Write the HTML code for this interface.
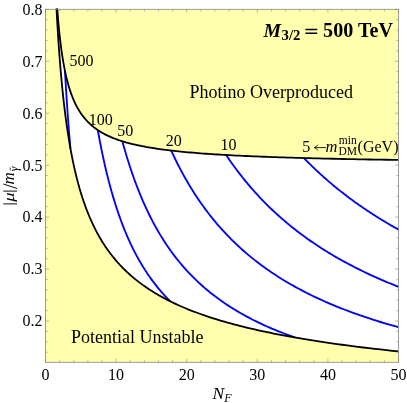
<!DOCTYPE html>
<html><head><meta charset="utf-8"><title>plot</title>
<style>
html,body{margin:0;padding:0;background:#fff;}
body{width:407px;height:403px;overflow:hidden;font-family:"Liberation Serif",serif;}
svg{display:block;will-change:transform;}
text{font-family:"Liberation Serif",serif;fill:#000;}
</style></head><body>
<svg width="407" height="403" viewBox="0 0 407 403">
<rect x="0" y="0" width="407" height="403" fill="#ffffff"/>
<rect x="45.5" y="9.3" width="353.0" height="353.0" fill="#ffffae"/>
<path d="M57.21,8.52 L57.41,11.18 L57.62,13.79 L57.83,16.36 L58.04,18.89 L58.25,21.37 L58.47,23.81 L58.70,26.21 L58.93,28.56 L59.16,30.88 L59.39,33.16 L59.63,35.40 L59.88,37.60 L60.13,39.77 L60.38,41.90 L60.64,43.99 L60.90,46.04 L61.16,48.06 L61.43,50.05 L61.71,52.01 L61.99,53.93 L62.27,55.81 L62.56,57.67 L62.86,59.49 L63.16,61.29 L63.46,63.05 L63.77,64.78 L64.09,66.48 L64.41,68.16 L64.73,69.80 L65.07,71.42 L65.40,73.01 L65.75,74.58 L66.10,76.11 L66.45,77.63 L66.81,79.11 L67.18,80.57 L67.56,82.01 L67.94,83.42 L68.32,84.80 L68.72,86.17 L69.12,87.51 L69.53,88.83 L69.94,90.12 L70.36,91.39 L70.79,92.65 L71.23,93.88 L71.67,95.09 L72.13,96.28 L72.59,97.44 L73.05,98.59 L73.53,99.72 L74.01,100.83 L74.50,101.92 L75.01,103.00 L75.51,104.05 L76.03,105.09 L76.56,106.11 L77.10,107.11 L77.64,108.10 L78.20,109.06 L78.76,110.02 L79.34,110.95 L79.92,111.87 L80.51,112.78 L81.12,113.66 L81.73,114.54 L82.36,115.40 L82.99,116.24 L83.64,117.07 L84.30,117.89 L84.97,118.69 L85.65,119.48 L86.35,120.25 L87.05,121.01 L87.77,121.76 L88.50,122.50 L89.24,123.22 L89.99,123.94 L90.76,124.63 L91.54,125.32 L92.34,126.00 L93.15,126.66 L93.97,127.32 L94.81,127.96 L95.66,128.59 L96.52,129.21 L97.41,129.82 L98.30,130.42 L99.21,131.01 L100.14,131.59 L101.08,132.16 L102.04,132.72 L103.02,133.27 L104.01,133.81 L105.02,134.34 L106.05,134.86 L107.10,135.38 L108.16,135.88 L109.24,136.38 L110.34,136.87 L111.46,137.35 L112.60,137.82 L113.76,138.28 L114.94,138.74 L116.13,139.19 L117.35,139.63 L118.59,140.06 L119.86,140.49 L121.14,140.91 L122.45,141.32 L123.77,141.72 L125.13,142.12 L126.50,142.51 L127.90,142.89 L129.32,143.27 L130.77,143.64 L132.24,144.01 L133.74,144.37 L135.26,144.72 L136.81,145.07 L138.39,145.41 L139.99,145.74 L141.62,146.07 L143.28,146.40 L144.97,146.71 L146.69,147.03 L148.43,147.33 L150.21,147.64 L152.02,147.93 L153.86,148.23 L155.73,148.51 L157.63,148.80 L159.57,149.07 L161.54,149.35 L163.54,149.61 L165.58,149.88 L167.65,150.14 L169.76,150.39 L171.90,150.64 L174.09,150.89 L176.31,151.13 L178.56,151.37 L180.86,151.60 L183.20,151.83 L185.57,152.06 L187.99,152.28 L190.45,152.50 L192.96,152.71 L195.50,152.92 L198.09,153.13 L200.73,153.34 L203.40,153.54 L206.13,153.73 L208.90,153.93 L211.72,154.12 L214.59,154.30 L217.51,154.49 L220.48,154.67 L223.50,154.85 L226.58,155.02 L229.70,155.19 L232.88,155.36 L236.12,155.53 L239.41,155.69 L242.76,155.85 L246.16,156.01 L249.63,156.17 L253.15,156.32 L256.74,156.47 L260.38,156.62 L264.09,156.76 L267.87,156.90 L271.70,157.04 L275.61,157.18 L279.58,157.32 L283.62,157.45 L287.73,157.58 L291.92,157.71 L296.17,157.83 L300.50,157.96 L304.90,158.08 L309.38,158.20 L313.93,158.32 L318.57,158.43 L323.28,158.55 L328.08,158.66 L332.96,158.77 L337.92,158.88 L342.97,158.99 L348.10,159.09 L353.33,159.19 L358.64,159.29 L364.05,159.39 L369.55,159.49 L375.14,159.59 L380.83,159.68 L386.62,159.77 L392.51,159.87 L398.50,159.96 L398.50,351.43 L392.40,350.79 L386.40,350.14 L380.51,349.48 L374.72,348.82 L369.03,348.16 L363.44,347.49 L357.94,346.81 L352.54,346.13 L347.24,345.44 L342.02,344.74 L336.90,344.04 L331.86,343.33 L326.91,342.62 L322.05,341.90 L317.27,341.17 L312.57,340.44 L307.96,339.70 L303.42,338.95 L298.96,338.20 L294.58,337.44 L290.28,336.67 L286.05,335.90 L281.89,335.12 L277.80,334.33 L273.79,333.54 L269.84,332.74 L265.96,331.94 L262.15,331.12 L258.41,330.30 L254.73,329.47 L251.11,328.64 L247.56,327.79 L244.07,326.94 L240.64,326.09 L237.26,325.22 L233.95,324.35 L230.69,323.47 L227.49,322.58 L224.34,321.68 L221.25,320.78 L218.22,319.87 L215.23,318.95 L212.30,318.02 L209.41,317.09 L206.58,316.14 L203.80,315.19 L201.06,314.23 L198.37,313.26 L195.73,312.28 L193.13,311.30 L190.58,310.30 L188.08,309.30 L185.61,308.29 L183.19,307.26 L180.81,306.23 L178.47,305.20 L176.17,304.15 L173.91,303.09 L171.69,302.02 L169.51,300.95 L167.37,299.86 L165.26,298.77 L163.19,297.66 L161.16,296.55 L159.16,295.43 L157.20,294.29 L155.27,293.15 L153.37,292.00 L151.50,290.83 L149.67,289.66 L147.87,288.47 L146.10,287.28 L144.36,286.07 L142.66,284.86 L140.98,283.63 L139.33,282.40 L137.70,281.15 L136.11,279.89 L134.54,278.62 L133.01,277.34 L131.49,276.05 L130.01,274.74 L128.55,273.43 L127.11,272.10 L125.70,270.77 L124.31,269.42 L122.95,268.05 L121.61,266.68 L120.30,265.30 L119.01,263.90 L117.73,262.49 L116.49,261.07 L115.26,259.63 L114.05,258.19 L112.87,256.73 L111.70,255.25 L110.56,253.77 L109.44,252.27 L108.33,250.76 L107.24,249.23 L106.18,247.70 L105.13,246.14 L104.10,244.58 L103.09,243.00 L102.09,241.41 L101.11,239.80 L100.15,238.18 L99.21,236.55 L98.28,234.90 L97.37,233.23 L96.47,231.56 L95.59,229.86 L94.72,228.15 L93.87,226.43 L93.04,224.69 L92.21,222.94 L91.41,221.17 L90.61,219.39 L89.83,217.59 L89.07,215.78 L88.31,213.94 L87.57,212.10 L86.85,210.23 L86.13,208.35 L85.43,206.46 L84.74,204.55 L84.06,202.62 L83.40,200.67 L82.74,198.71 L82.10,196.73 L81.46,194.73 L80.84,192.71 L80.23,190.68 L79.63,188.63 L79.04,186.56 L78.46,184.48 L77.89,182.37 L77.33,180.25 L76.78,178.10 L76.24,175.94 L75.71,173.76 L75.19,171.57 L74.68,169.35 L74.17,167.11 L73.68,164.85 L73.19,162.58 L72.71,160.28 L72.24,157.96 L71.78,155.63 L71.32,153.27 L70.88,150.89 L70.44,148.49 L70.01,146.07 L69.58,143.63 L69.17,141.17 L68.76,138.68 L68.36,136.18 L67.96,133.65 L67.57,131.10 L67.19,128.53 L66.82,125.93 L66.45,123.31 L66.09,120.67 L65.73,118.01 L65.38,115.32 L65.04,112.61 L64.70,109.88 L64.37,107.12 L64.04,104.34 L63.72,101.53 L63.41,98.70 L63.10,95.84 L62.79,92.96 L62.49,90.06 L62.20,87.12 L61.91,84.17 L61.63,81.18 L61.35,78.17 L61.08,75.14 L60.81,72.08 L60.54,68.99 L60.28,65.87 L60.03,62.73 L59.77,59.56 L59.53,56.36 L59.29,53.13 L59.05,49.88 L58.81,46.59 L58.58,43.28 L58.36,39.94 L58.13,36.57 L57.92,33.17 L57.70,29.74 L57.49,26.28 L57.28,22.79 L57.08,19.27 L56.88,15.72 L56.68,12.13 L56.49,8.52 Z" fill="#ffffff"/>
<g fill="none" stroke="#0000ff" stroke-width="1.85" stroke-linecap="butt" stroke-linejoin="round">
<path d="M64.99,71.04 L65.03,71.92 L65.08,72.80 L65.13,73.68 L65.18,74.56 L65.23,75.43 L65.28,76.30 L65.33,77.17 L65.38,78.04 L65.43,78.90 L65.48,79.77 L65.53,80.63 L65.58,81.49 L65.63,82.34 L65.68,83.20 L65.73,84.05 L65.78,84.90 L65.83,85.75 L65.88,86.60 L65.93,87.44 L65.98,88.28 L66.04,89.12 L66.09,89.96 L66.14,90.80 L66.19,91.63 L66.24,92.46 L66.29,93.29 L66.35,94.12 L66.40,94.94 L66.45,95.77 L66.50,96.59 L66.55,97.41 L66.61,98.22 L66.66,99.04 L66.71,99.85 L66.77,100.66 L66.82,101.47 L66.87,102.28 L66.93,103.08 L66.98,103.89 L67.03,104.69 L67.09,105.49 L67.14,106.28 L67.20,107.08 L67.25,107.87 L67.30,108.66 L67.36,109.45 L67.41,110.24 L67.47,111.02 L67.52,111.81 L67.58,112.59 L67.63,113.37 L67.69,114.14 L67.74,114.92 L67.80,115.69 L67.86,116.46 L67.91,117.23 L67.97,118.00 L68.02,118.77 L68.08,119.53 L68.14,120.29 L68.19,121.05 L68.25,121.81 L68.31,122.57 L68.36,123.32 L68.42,124.07 L68.48,124.82 L68.54,125.57 L68.59,126.32 L68.65,127.07 L68.71,127.81 L68.77,128.55 L68.83,129.29 L68.88,130.03 L68.94,130.76 L69.00,131.50 L69.06,132.23 L69.12,132.96 L69.18,133.69 L69.24,134.41 L69.30,135.14 L69.36,135.86 L69.42,136.58 L69.48,137.30 L69.54,138.02 L69.60,138.73 L69.66,139.45 L69.72,140.16 L69.78,140.87 L69.84,141.58 L69.90,142.29 L69.96,142.99 L70.02,143.70 L70.08,144.40 L70.14,145.10 L70.20,145.80 L70.27,146.49 L70.33,147.19 L70.39,147.88 L70.45,148.57"/><path d="M97.80,130.08 L98.26,132.66 L98.72,135.22 L99.19,137.75 L99.67,140.26 L100.15,142.75 L100.63,145.22 L101.11,147.66 L101.60,150.09 L102.10,152.49 L102.60,154.87 L103.10,157.23 L103.61,159.57 L104.12,161.89 L104.64,164.19 L105.16,166.47 L105.69,168.73 L106.22,170.97 L106.75,173.19 L107.29,175.39 L107.84,177.58 L108.39,179.74 L108.94,181.88 L109.50,184.01 L110.07,186.11 L110.64,188.20 L111.21,190.27 L111.79,192.32 L112.38,194.36 L112.97,196.37 L113.56,198.37 L114.16,200.35 L114.77,202.32 L115.38,204.26 L116.00,206.19 L116.62,208.10 L117.25,210.00 L117.88,211.88 L118.52,213.74 L119.16,215.59 L119.81,217.42 L120.47,219.23 L121.13,221.03 L121.79,222.81 L122.47,224.58 L123.15,226.33 L123.83,228.07 L124.52,229.79 L125.22,231.50 L125.92,233.19 L126.63,234.86 L127.35,236.52 L128.07,238.17 L128.80,239.80 L129.53,241.42 L130.27,243.03 L131.02,244.62 L131.78,246.19 L132.54,247.76 L133.31,249.31 L134.08,250.84 L134.86,252.36 L135.65,253.87 L136.44,255.37 L137.25,256.85 L138.06,258.32 L138.87,259.78 L139.70,261.22 L140.53,262.65 L141.37,264.07 L142.21,265.48 L143.06,266.87 L143.93,268.25 L144.79,269.62 L145.67,270.98 L146.55,272.32 L147.44,273.66 L148.34,274.98 L149.25,276.29 L150.17,277.59 L151.09,278.88 L152.02,280.16 L152.96,281.42 L153.91,282.68 L154.86,283.92 L155.83,285.15 L156.80,286.38 L157.78,287.59 L158.77,288.79 L159.77,289.98 L160.78,291.16 L161.80,292.33 L162.83,293.49 L163.86,294.63 L164.90,295.77 L165.96,296.90 L167.02,298.02 L168.09,299.13 L169.17,300.23 L170.26,301.32"/><path d="M122.38,141.30 L123.30,144.65 L124.24,147.96 L125.18,151.24 L126.13,154.47 L127.09,157.67 L128.07,160.83 L129.06,163.95 L130.06,167.03 L131.07,170.08 L132.09,173.09 L133.13,176.07 L134.18,179.01 L135.24,181.92 L136.31,184.79 L137.40,187.63 L138.50,190.44 L139.61,193.21 L140.74,195.95 L141.87,198.65 L143.03,201.33 L144.19,203.97 L145.38,206.58 L146.57,209.16 L147.78,211.71 L149.00,214.23 L150.24,216.72 L151.49,219.18 L152.76,221.62 L154.04,224.02 L155.34,226.39 L156.66,228.74 L157.99,231.06 L159.33,233.35 L160.69,235.61 L162.07,237.85 L163.47,240.06 L164.88,242.25 L166.31,244.41 L167.75,246.54 L169.21,248.65 L170.69,250.73 L172.19,252.79 L173.71,254.83 L175.24,256.84 L176.79,258.82 L178.36,260.79 L179.95,262.73 L181.56,264.64 L183.19,266.54 L184.84,268.41 L186.50,270.26 L188.19,272.09 L189.90,273.89 L191.62,275.68 L193.37,277.44 L195.14,279.19 L196.93,280.91 L198.74,282.61 L200.58,284.29 L202.43,285.96 L204.31,287.60 L206.21,289.22 L208.13,290.82 L210.08,292.41 L212.04,293.98 L214.04,295.52 L216.05,297.05 L218.09,298.56 L220.16,300.06 L222.25,301.53 L224.36,302.99 L226.50,304.43 L228.67,305.86 L230.86,307.26 L233.07,308.65 L235.32,310.03 L237.59,311.39 L239.89,312.73 L242.21,314.05 L244.57,315.37 L246.95,316.66 L249.36,317.94 L251.80,319.20 L254.26,320.45 L256.76,321.69 L259.29,322.91 L261.85,324.11 L264.43,325.31 L267.05,326.48 L269.70,327.65 L272.38,328.80 L275.10,329.93 L277.85,331.05 L280.62,332.16 L283.44,333.26 L286.28,334.34 L289.16,335.41 L292.08,336.47 L295.03,337.52"/><path d="M171.17,150.56 L172.49,153.40 L173.82,156.22 L175.16,159.01 L176.52,161.77 L177.90,164.50 L179.29,167.20 L180.69,169.88 L182.11,172.52 L183.54,175.14 L184.99,177.74 L186.45,180.30 L187.93,182.84 L189.42,185.35 L190.93,187.84 L192.46,190.30 L194.00,192.73 L195.55,195.14 L197.13,197.53 L198.72,199.89 L200.32,202.22 L201.95,204.53 L203.59,206.82 L205.25,209.08 L206.92,211.32 L208.62,213.54 L210.33,215.73 L212.05,217.90 L213.80,220.05 L215.57,222.18 L217.35,224.28 L219.15,226.36 L220.97,228.42 L222.81,230.46 L224.67,232.48 L226.55,234.48 L228.45,236.46 L230.37,238.41 L232.31,240.35 L234.27,242.26 L236.25,244.16 L238.25,246.03 L240.27,247.89 L242.31,249.73 L244.38,251.54 L246.46,253.34 L248.57,255.12 L250.70,256.89 L252.85,258.63 L255.02,260.36 L257.22,262.06 L259.44,263.75 L261.69,265.43 L263.95,267.08 L266.24,268.72 L268.56,270.34 L270.90,271.94 L273.26,273.53 L275.65,275.10 L278.06,276.66 L280.50,278.19 L282.97,279.72 L285.46,281.22 L287.97,282.72 L290.52,284.19 L293.09,285.65 L295.68,287.10 L298.31,288.53 L300.96,289.94 L303.64,291.34 L306.34,292.73 L309.08,294.10 L311.84,295.46 L314.64,296.80 L317.46,298.13 L320.31,299.45 L323.19,300.75 L326.11,302.04 L329.05,303.31 L332.02,304.57 L335.03,305.82 L338.06,307.06 L341.13,308.28 L344.23,309.49 L347.36,310.69 L350.53,311.87 L353.73,313.05 L356.96,314.21 L360.23,315.36 L363.53,316.49 L366.86,317.62 L370.23,318.73 L373.64,319.83 L377.08,320.93 L380.56,322.00 L384.07,323.07 L387.62,324.13 L391.21,325.17 L394.84,326.21 L398.50,327.23"/><path d="M226.15,155.00 L227.37,156.82 L228.61,158.63 L229.85,160.42 L231.10,162.21 L232.36,163.98 L233.63,165.74 L234.91,167.49 L236.19,169.22 L237.49,170.95 L238.79,172.66 L240.11,174.36 L241.43,176.05 L242.76,177.73 L244.10,179.39 L245.45,181.05 L246.80,182.69 L248.17,184.33 L249.55,185.95 L250.93,187.56 L252.33,189.16 L253.73,190.75 L255.14,192.33 L256.57,193.90 L258.00,195.46 L259.44,197.01 L260.90,198.54 L262.36,200.07 L263.83,201.59 L265.31,203.09 L266.81,204.59 L268.31,206.07 L269.82,207.55 L271.34,209.01 L272.88,210.47 L274.42,211.92 L275.98,213.35 L277.54,214.78 L279.12,216.20 L280.70,217.60 L282.30,219.00 L283.91,220.39 L285.53,221.77 L287.16,223.14 L288.80,224.50 L290.45,225.85 L292.11,227.19 L293.79,228.53 L295.47,229.85 L297.17,231.17 L298.88,232.47 L300.60,233.77 L302.33,235.06 L304.08,236.34 L305.83,237.61 L307.60,238.88 L309.38,240.13 L311.17,241.38 L312.97,242.61 L314.79,243.84 L316.62,245.07 L318.46,246.28 L320.31,247.48 L322.18,248.68 L324.06,249.87 L325.95,251.05 L327.85,252.22 L329.77,253.39 L331.70,254.54 L333.64,255.69 L335.60,256.83 L337.57,257.97 L339.55,259.09 L341.55,260.21 L343.56,261.32 L345.58,262.42 L347.62,263.52 L349.67,264.61 L351.74,265.69 L353.82,266.76 L355.91,267.83 L358.02,268.89 L360.14,269.94 L362.28,270.99 L364.43,272.02 L366.59,273.05 L368.77,274.08 L370.97,275.10 L373.18,276.11 L375.40,277.11 L377.64,278.11 L379.90,279.10 L382.17,280.08 L384.45,281.06 L386.76,282.03 L389.07,282.99 L391.41,283.95 L393.75,284.90 L396.12,285.84 L398.50,286.78"/><path d="M303.90,158.05 L304.71,158.89 L305.53,159.73 L306.35,160.56 L307.17,161.40 L308.00,162.22 L308.83,163.05 L309.66,163.87 L310.49,164.70 L311.33,165.51 L312.17,166.33 L313.01,167.14 L313.85,167.96 L314.70,168.76 L315.55,169.57 L316.40,170.37 L317.26,171.17 L318.12,171.97 L318.98,172.77 L319.84,173.56 L320.71,174.35 L321.57,175.14 L322.45,175.93 L323.32,176.71 L324.20,177.49 L325.08,178.27 L325.96,179.04 L326.84,179.82 L327.73,180.59 L328.62,181.36 L329.52,182.12 L330.41,182.89 L331.31,183.65 L332.21,184.41 L333.12,185.17 L334.03,185.92 L334.94,186.67 L335.85,187.42 L336.77,188.17 L337.69,188.91 L338.61,189.66 L339.53,190.40 L340.46,191.13 L341.39,191.87 L342.33,192.60 L343.26,193.33 L344.20,194.06 L345.15,194.79 L346.09,195.51 L347.04,196.23 L347.99,196.95 L348.95,197.67 L349.90,198.39 L350.87,199.10 L351.83,199.81 L352.80,200.52 L353.77,201.22 L354.74,201.93 L355.72,202.63 L356.69,203.33 L357.68,204.02 L358.66,204.72 L359.65,205.41 L360.64,206.10 L361.64,206.79 L362.63,207.48 L363.64,208.16 L364.64,208.84 L365.65,209.52 L366.66,210.20 L367.67,210.88 L368.69,211.55 L369.71,212.22 L370.73,212.89 L371.76,213.56 L372.79,214.22 L373.82,214.88 L374.86,215.55 L375.90,216.20 L376.94,216.86 L377.98,217.52 L379.03,218.17 L380.09,218.82 L381.14,219.47 L382.20,220.11 L383.27,220.76 L384.33,221.40 L385.40,222.04 L386.47,222.68 L387.55,223.31 L388.63,223.95 L389.71,224.58 L390.80,225.21 L391.89,225.84 L392.98,226.47 L394.08,227.09 L395.18,227.71 L396.28,228.33 L397.39,228.95 L398.50,229.57"/>
</g>
<g fill="none" stroke="#000000" stroke-width="1.8" stroke-linecap="butt" stroke-linejoin="round">
<path d="M57.21,8.52 L57.41,11.18 L57.62,13.79 L57.83,16.36 L58.04,18.89 L58.25,21.37 L58.47,23.81 L58.70,26.21 L58.93,28.56 L59.16,30.88 L59.39,33.16 L59.63,35.40 L59.88,37.60 L60.13,39.77 L60.38,41.90 L60.64,43.99 L60.90,46.04 L61.16,48.06 L61.43,50.05 L61.71,52.01 L61.99,53.93 L62.27,55.81 L62.56,57.67 L62.86,59.49 L63.16,61.29 L63.46,63.05 L63.77,64.78 L64.09,66.48 L64.41,68.16 L64.73,69.80 L65.07,71.42 L65.40,73.01 L65.75,74.58 L66.10,76.11 L66.45,77.63 L66.81,79.11 L67.18,80.57 L67.56,82.01 L67.94,83.42 L68.32,84.80 L68.72,86.17 L69.12,87.51 L69.53,88.83 L69.94,90.12 L70.36,91.39 L70.79,92.65 L71.23,93.88 L71.67,95.09 L72.13,96.28 L72.59,97.44 L73.05,98.59 L73.53,99.72 L74.01,100.83 L74.50,101.92 L75.01,103.00 L75.51,104.05 L76.03,105.09 L76.56,106.11 L77.10,107.11 L77.64,108.10 L78.20,109.06 L78.76,110.02 L79.34,110.95 L79.92,111.87 L80.51,112.78 L81.12,113.66 L81.73,114.54 L82.36,115.40 L82.99,116.24 L83.64,117.07 L84.30,117.89 L84.97,118.69 L85.65,119.48 L86.35,120.25 L87.05,121.01 L87.77,121.76 L88.50,122.50 L89.24,123.22 L89.99,123.94 L90.76,124.63 L91.54,125.32 L92.34,126.00 L93.15,126.66 L93.97,127.32 L94.81,127.96 L95.66,128.59 L96.52,129.21 L97.41,129.82 L98.30,130.42 L99.21,131.01 L100.14,131.59 L101.08,132.16 L102.04,132.72 L103.02,133.27 L104.01,133.81 L105.02,134.34 L106.05,134.86 L107.10,135.38 L108.16,135.88 L109.24,136.38 L110.34,136.87 L111.46,137.35 L112.60,137.82 L113.76,138.28 L114.94,138.74 L116.13,139.19 L117.35,139.63 L118.59,140.06 L119.86,140.49 L121.14,140.91 L122.45,141.32 L123.77,141.72 L125.13,142.12 L126.50,142.51 L127.90,142.89 L129.32,143.27 L130.77,143.64 L132.24,144.01 L133.74,144.37 L135.26,144.72 L136.81,145.07 L138.39,145.41 L139.99,145.74 L141.62,146.07 L143.28,146.40 L144.97,146.71 L146.69,147.03 L148.43,147.33 L150.21,147.64 L152.02,147.93 L153.86,148.23 L155.73,148.51 L157.63,148.80 L159.57,149.07 L161.54,149.35 L163.54,149.61 L165.58,149.88 L167.65,150.14 L169.76,150.39 L171.90,150.64 L174.09,150.89 L176.31,151.13 L178.56,151.37 L180.86,151.60 L183.20,151.83 L185.57,152.06 L187.99,152.28 L190.45,152.50 L192.96,152.71 L195.50,152.92 L198.09,153.13 L200.73,153.34 L203.40,153.54 L206.13,153.73 L208.90,153.93 L211.72,154.12 L214.59,154.30 L217.51,154.49 L220.48,154.67 L223.50,154.85 L226.58,155.02 L229.70,155.19 L232.88,155.36 L236.12,155.53 L239.41,155.69 L242.76,155.85 L246.16,156.01 L249.63,156.17 L253.15,156.32 L256.74,156.47 L260.38,156.62 L264.09,156.76 L267.87,156.90 L271.70,157.04 L275.61,157.18 L279.58,157.32 L283.62,157.45 L287.73,157.58 L291.92,157.71 L296.17,157.83 L300.50,157.96 L304.90,158.08 L309.38,158.20 L313.93,158.32 L318.57,158.43 L323.28,158.55 L328.08,158.66 L332.96,158.77 L337.92,158.88 L342.97,158.99 L348.10,159.09 L353.33,159.19 L358.64,159.29 L364.05,159.39 L369.55,159.49 L375.14,159.59 L380.83,159.68 L386.62,159.77 L392.51,159.87 L398.50,159.96"/>
<path d="M56.49,8.52 L56.68,12.13 L56.88,15.72 L57.08,19.27 L57.28,22.79 L57.49,26.28 L57.70,29.74 L57.92,33.17 L58.13,36.57 L58.36,39.94 L58.58,43.28 L58.81,46.59 L59.05,49.88 L59.29,53.13 L59.53,56.36 L59.77,59.56 L60.03,62.73 L60.28,65.87 L60.54,68.99 L60.81,72.08 L61.08,75.14 L61.35,78.17 L61.63,81.18 L61.91,84.17 L62.20,87.12 L62.49,90.06 L62.79,92.96 L63.10,95.84 L63.41,98.70 L63.72,101.53 L64.04,104.34 L64.37,107.12 L64.70,109.88 L65.04,112.61 L65.38,115.32 L65.73,118.01 L66.09,120.67 L66.45,123.31 L66.82,125.93 L67.19,128.53 L67.57,131.10 L67.96,133.65 L68.36,136.18 L68.76,138.68 L69.17,141.17 L69.58,143.63 L70.01,146.07 L70.44,148.49 L70.88,150.89 L71.32,153.27 L71.78,155.63 L72.24,157.96 L72.71,160.28 L73.19,162.58 L73.68,164.85 L74.17,167.11 L74.68,169.35 L75.19,171.57 L75.71,173.76 L76.24,175.94 L76.78,178.10 L77.33,180.25 L77.89,182.37 L78.46,184.48 L79.04,186.56 L79.63,188.63 L80.23,190.68 L80.84,192.71 L81.46,194.73 L82.10,196.73 L82.74,198.71 L83.40,200.67 L84.06,202.62 L84.74,204.55 L85.43,206.46 L86.13,208.35 L86.85,210.23 L87.57,212.10 L88.31,213.94 L89.07,215.78 L89.83,217.59 L90.61,219.39 L91.41,221.17 L92.21,222.94 L93.04,224.69 L93.87,226.43 L94.72,228.15 L95.59,229.86 L96.47,231.56 L97.37,233.23 L98.28,234.90 L99.21,236.55 L100.15,238.18 L101.11,239.80 L102.09,241.41 L103.09,243.00 L104.10,244.58 L105.13,246.14 L106.18,247.70 L107.24,249.23 L108.33,250.76 L109.44,252.27 L110.56,253.77 L111.70,255.25 L112.87,256.73 L114.05,258.19 L115.26,259.63 L116.49,261.07 L117.73,262.49 L119.01,263.90 L120.30,265.30 L121.61,266.68 L122.95,268.05 L124.31,269.42 L125.70,270.77 L127.11,272.10 L128.55,273.43 L130.01,274.74 L131.49,276.05 L133.01,277.34 L134.54,278.62 L136.11,279.89 L137.70,281.15 L139.33,282.40 L140.98,283.63 L142.66,284.86 L144.36,286.07 L146.10,287.28 L147.87,288.47 L149.67,289.66 L151.50,290.83 L153.37,292.00 L155.27,293.15 L157.20,294.29 L159.16,295.43 L161.16,296.55 L163.19,297.66 L165.26,298.77 L167.37,299.86 L169.51,300.95 L171.69,302.02 L173.91,303.09 L176.17,304.15 L178.47,305.20 L180.81,306.23 L183.19,307.26 L185.61,308.29 L188.08,309.30 L190.58,310.30 L193.13,311.30 L195.73,312.28 L198.37,313.26 L201.06,314.23 L203.80,315.19 L206.58,316.14 L209.41,317.09 L212.30,318.02 L215.23,318.95 L218.22,319.87 L221.25,320.78 L224.34,321.68 L227.49,322.58 L230.69,323.47 L233.95,324.35 L237.26,325.22 L240.64,326.09 L244.07,326.94 L247.56,327.79 L251.11,328.64 L254.73,329.47 L258.41,330.30 L262.15,331.12 L265.96,331.94 L269.84,332.74 L273.79,333.54 L277.80,334.33 L281.89,335.12 L286.05,335.90 L290.28,336.67 L294.58,337.44 L298.96,338.20 L303.42,338.95 L307.96,339.70 L312.57,340.44 L317.27,341.17 L322.05,341.90 L326.91,342.62 L331.86,343.33 L336.90,344.04 L342.02,344.74 L347.24,345.44 L352.54,346.13 L357.94,346.81 L363.44,347.49 L369.03,348.16 L374.72,348.82 L380.51,349.48 L386.40,350.14 L392.40,350.79 L398.50,351.43"/>
</g>
<rect x="45.5" y="9.3" width="353.0" height="353.0" fill="none" stroke="#858585" stroke-width="0.8"/>
<g stroke="#808080" stroke-width="0.55" fill="none">
<path d="M45.50,362.30 v-3.6 M45.50,9.30 v3.6"/><path d="M59.62,362.30 v-2.2 M59.62,9.30 v2.2"/><path d="M73.74,362.30 v-2.2 M73.74,9.30 v2.2"/><path d="M87.86,362.30 v-2.2 M87.86,9.30 v2.2"/><path d="M101.98,362.30 v-2.2 M101.98,9.30 v2.2"/><path d="M116.10,362.30 v-3.6 M116.10,9.30 v3.6"/><path d="M130.22,362.30 v-2.2 M130.22,9.30 v2.2"/><path d="M144.34,362.30 v-2.2 M144.34,9.30 v2.2"/><path d="M158.46,362.30 v-2.2 M158.46,9.30 v2.2"/><path d="M172.58,362.30 v-2.2 M172.58,9.30 v2.2"/><path d="M186.70,362.30 v-3.6 M186.70,9.30 v3.6"/><path d="M200.82,362.30 v-2.2 M200.82,9.30 v2.2"/><path d="M214.94,362.30 v-2.2 M214.94,9.30 v2.2"/><path d="M229.06,362.30 v-2.2 M229.06,9.30 v2.2"/><path d="M243.18,362.30 v-2.2 M243.18,9.30 v2.2"/><path d="M257.30,362.30 v-3.6 M257.30,9.30 v3.6"/><path d="M271.42,362.30 v-2.2 M271.42,9.30 v2.2"/><path d="M285.54,362.30 v-2.2 M285.54,9.30 v2.2"/><path d="M299.66,362.30 v-2.2 M299.66,9.30 v2.2"/><path d="M313.78,362.30 v-2.2 M313.78,9.30 v2.2"/><path d="M327.90,362.30 v-3.6 M327.90,9.30 v3.6"/><path d="M342.02,362.30 v-2.2 M342.02,9.30 v2.2"/><path d="M356.14,362.30 v-2.2 M356.14,9.30 v2.2"/><path d="M370.26,362.30 v-2.2 M370.26,9.30 v2.2"/><path d="M384.38,362.30 v-2.2 M384.38,9.30 v2.2"/><path d="M398.50,362.30 v-3.6 M398.50,9.30 v3.6"/><path d="M45.50,352.17 h2.2 M398.50,352.17 h-2.2"/><path d="M45.50,341.78 h2.2 M398.50,341.78 h-2.2"/><path d="M45.50,331.39 h2.2 M398.50,331.39 h-2.2"/><path d="M45.50,321.00 h3.6 M398.50,321.00 h-3.6"/><path d="M45.50,310.61 h2.2 M398.50,310.61 h-2.2"/><path d="M45.50,300.22 h2.2 M398.50,300.22 h-2.2"/><path d="M45.50,289.83 h2.2 M398.50,289.83 h-2.2"/><path d="M45.50,279.44 h2.2 M398.50,279.44 h-2.2"/><path d="M45.50,269.05 h3.6 M398.50,269.05 h-3.6"/><path d="M45.50,258.66 h2.2 M398.50,258.66 h-2.2"/><path d="M45.50,248.27 h2.2 M398.50,248.27 h-2.2"/><path d="M45.50,237.88 h2.2 M398.50,237.88 h-2.2"/><path d="M45.50,227.49 h2.2 M398.50,227.49 h-2.2"/><path d="M45.50,217.10 h3.6 M398.50,217.10 h-3.6"/><path d="M45.50,206.71 h2.2 M398.50,206.71 h-2.2"/><path d="M45.50,196.32 h2.2 M398.50,196.32 h-2.2"/><path d="M45.50,185.93 h2.2 M398.50,185.93 h-2.2"/><path d="M45.50,175.54 h2.2 M398.50,175.54 h-2.2"/><path d="M45.50,165.15 h3.6 M398.50,165.15 h-3.6"/><path d="M45.50,154.76 h2.2 M398.50,154.76 h-2.2"/><path d="M45.50,144.37 h2.2 M398.50,144.37 h-2.2"/><path d="M45.50,133.98 h2.2 M398.50,133.98 h-2.2"/><path d="M45.50,123.59 h2.2 M398.50,123.59 h-2.2"/><path d="M45.50,113.20 h3.6 M398.50,113.20 h-3.6"/><path d="M45.50,102.81 h2.2 M398.50,102.81 h-2.2"/><path d="M45.50,92.42 h2.2 M398.50,92.42 h-2.2"/><path d="M45.50,82.03 h2.2 M398.50,82.03 h-2.2"/><path d="M45.50,71.64 h2.2 M398.50,71.64 h-2.2"/><path d="M45.50,61.25 h3.6 M398.50,61.25 h-3.6"/><path d="M45.50,50.86 h2.2 M398.50,50.86 h-2.2"/><path d="M45.50,40.47 h2.2 M398.50,40.47 h-2.2"/><path d="M45.50,30.08 h2.2 M398.50,30.08 h-2.2"/><path d="M45.50,19.69 h2.2 M398.50,19.69 h-2.2"/><path d="M45.50,9.30 h3.6 M398.50,9.30 h-3.6"/>
</g>
<g font-size="16px"><text x="42.6" y="14.6" text-anchor="end">0.8</text><text x="42.6" y="66.6" text-anchor="end">0.7</text><text x="42.6" y="118.5" text-anchor="end">0.6</text><text x="42.6" y="170.5" text-anchor="end">0.5</text><text x="42.6" y="222.4" text-anchor="end">0.4</text><text x="42.6" y="274.4" text-anchor="end">0.3</text><text x="42.6" y="326.3" text-anchor="end">0.2</text><text x="45.5" y="379.7" text-anchor="middle">0</text><text x="116.1" y="379.7" text-anchor="middle">10</text><text x="186.7" y="379.7" text-anchor="middle">20</text><text x="257.3" y="379.7" text-anchor="middle">30</text><text x="327.9" y="379.7" text-anchor="middle">40</text><text x="398.5" y="379.7" text-anchor="middle">50</text></g>
<g font-size="16px">
<text x="69.5" y="66.1">500</text>
<text x="88.8" y="124.5">100</text>
<text x="117.2" y="136">50</text>
<text x="165.7" y="145.5">20</text>
<text x="220.5" y="150">10</text>
<text x="302.2" y="152.2">5</text>
<text x="325.5" y="152.2" font-style="italic" font-size="16.5px">m</text>
<text x="338.5" y="155.4" font-size="11.5px">DM</text>
<text x="338.8" y="143.9" font-size="11.5px">min</text>
<text x="357.6" y="152.2">(GeV)</text>
</g>
<text x="189.5" y="98.4" font-size="18px">Photino Overproduced</text>
<text x="70.9" y="342.7" font-size="18px">Potential Unstable</text>
<g font-weight="bold" font-size="20.1px">
<text x="263.5" y="36.9" font-size="19.8px" font-style="italic">M</text>
<text x="281.6" y="39.9" font-size="14.8px">3/2</text>
<path d="M305.4,29.5 h11.8 M305.4,33.3 h11.8" stroke="#000" stroke-width="1.5" fill="none"/>
<text x="323.1" y="36.9">500</text>
<text x="358.0" y="36.9">TeV</text>
</g>
<text x="212.5" y="399" font-size="17.5px" font-style="italic">N<tspan font-size="12px" dy="3">F</tspan></text>
<g transform="translate(14.3,205.6) rotate(-90)">
<path d="M1.7,-11 V2.7 M14.5,-11 V2.7 M17.1,2.7 L21.6,-11" fill="none" stroke="#000" stroke-width="0.95"/>
<text transform="translate(3.9,0) scale(1.17,0.92)" x="0" y="0" font-size="16px" font-style="italic">μ</text>
<text x="21.2" y="0" font-size="17px" font-style="italic">m</text>
<text x="34.4" y="3.2" font-size="12px" font-style="italic">γ</text>
<path d="M35.3,-3.6 q0.7,-1.3 1.4,-0.5 q0.7,0.8 1.4,-0.5" fill="none" stroke="#000" stroke-width="0.8"/></g>
<path d="M314.3,147.6 H326 M317.9,144.7 Q316.6,146.9 314.3,147.6 Q316.6,148.3 317.9,150.5" fill="none" stroke="#000" stroke-width="0.85"/>
</svg>
</body></html>
